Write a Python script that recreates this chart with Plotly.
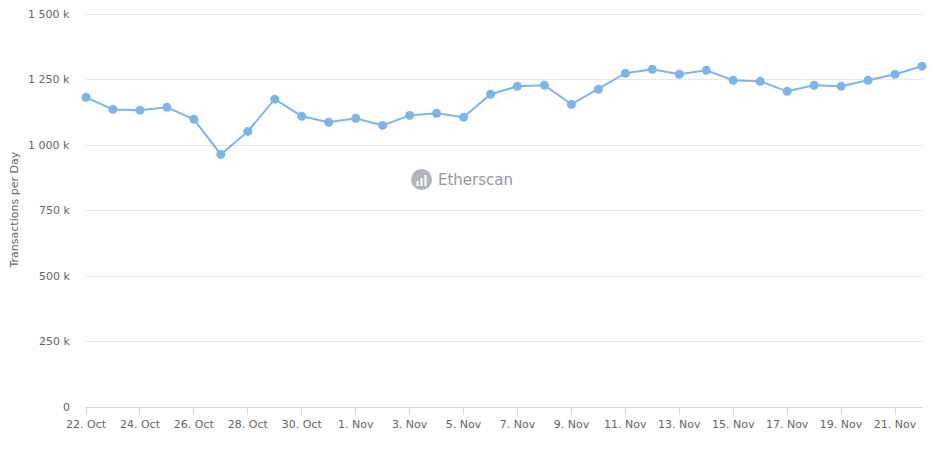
import plotly.graph_objects as go
import pandas as pd

dates = pd.date_range("2023-10-22", "2023-11-22", freq="D")
transactions = [
    1182000, 1136000, 1133000, 1144000, 1098000, 964000, 1052000, 1175000,
    1110000, 1087000, 1102000, 1075000, 1113000, 1121000, 1106000, 1194000,
    1224000, 1228000, 1155000, 1213000, 1274000, 1289000, 1270000, 1285000,
    1247000, 1243000, 1205000, 1228000, 1224000, 1247000, 1270000, 1301000,
]
y_tickvals = [0, 250000, 500000, 750000, 1000000, 1250000, 1500000]
y_ticktext = ["0", "250 k", "500 k", "750 k", "1 000 k", "1 250 k", "1 500 k"]
y_title = "Transactions per Day"
watermark = "Etherscan"

# page body has an 8px margin; figure sized to fit the 935x451 window
OFF = 8
W, H = 935 - 2 * OFF, 451 - 2 * OFF
PL, PR, PT, PB = 86, 922, 13, 407          # plot area in page pixels
ML, MT = PL - OFF, PT - OFF
MR, MB = W - (PR - OFF), H - (PB - OFF)
PW, PH = PR - PL, PB - PT

def px(x):
    return (x - PL) / PW

def py(y):
    return (PB - y) / PH

font = "DejaVu Sans"
line_color = "#7cb5ec"
text_color = "#666666"

fig = go.Figure()
fig.add_trace(go.Scatter(
    x=dates, y=transactions, mode="lines+markers",
    line=dict(color=line_color, width=2),
    marker=dict(color=line_color, size=9),
    cliponaxis=False, showlegend=False,
))

shapes = []
# watermark logo circle
shapes.append(dict(type="circle", xref="paper", yref="paper",
                   x0=px(411), x1=px(432), y0=py(190), y1=py(169),
                   fillcolor="#9ea3ad", line=dict(width=0), opacity=0.8))
for bx, bh in [(416.5, 5), (420.5, 8), (424.5, 11)]:
    shapes.append(dict(type="rect", xref="paper", yref="paper",
                       x0=px(bx), x1=px(bx + 2), y0=py(186), y1=py(186 - bh),
                       fillcolor="white", line=dict(width=0)))

annotations = [
    dict(text=y_title, xref="paper", yref="paper", x=px(14), y=py(210.5),
         textangle=-90, showarrow=False, xanchor="center", yanchor="middle",
         font=dict(family=font, size=11, color=text_color)),
    dict(text=watermark, xref="paper", yref="paper", x=px(436), y=py(180),
         showarrow=False, xanchor="left", yanchor="middle",
         font=dict(family=font, size=15, color="#9399a4")),
]
# y tick labels as annotations (top label would otherwise be hidden)
for v, t in zip(y_tickvals, y_ticktext):
    annotations.append(dict(
        text=t, xref="paper", yref="y", x=px(72), y=v,
        showarrow=False, xanchor="right", yanchor="middle",
        font=dict(family=font, size=11, color=text_color)))

fig.update_layout(
    width=W, height=H,
    margin=dict(l=ML, r=MR, t=MT, b=MB, autoexpand=False),
    paper_bgcolor="white", plot_bgcolor="white",
    font=dict(family=font, size=11, color=text_color),
    shapes=shapes, annotations=annotations,
    xaxis=dict(
        type="date",
        range=[dates[0], dates[-1]],
        tick0=dates[0], dtick=2 * 86400000,
        tickformat="%-d. %b",
        ticks="outside", ticklen=7, tickcolor="#ccd6eb", tickwidth=1,
        showline=True, linecolor="#ccd6eb", linewidth=1,
        showgrid=False, zeroline=False,
        tickfont=dict(family=font, size=11, color=text_color),
    ),
    yaxis=dict(
        range=[0, 1504000],
        tickvals=y_tickvals,
        showticklabels=False,
        showgrid=True, gridcolor="#e6e6e6", gridwidth=1,
        zeroline=False, showline=False, ticks="",
    ),
)

fig.write_html("out.html")
